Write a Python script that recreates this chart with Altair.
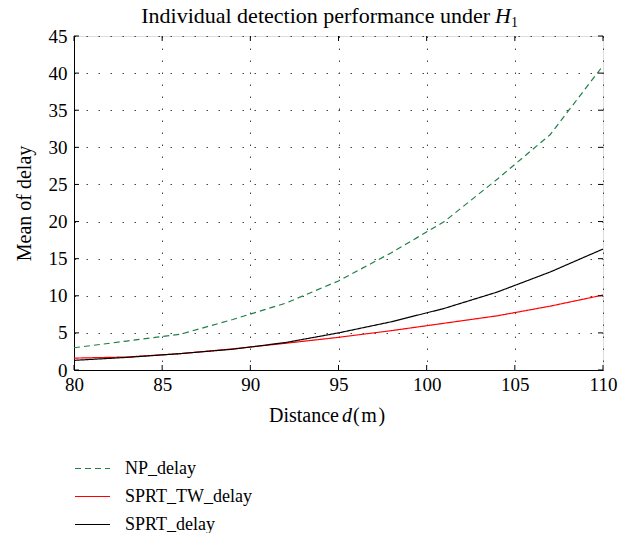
import altair as alt
import pandas as pd

distance = [80, 83, 86, 89, 92, 95, 98, 101, 104, 107, 110]
np_delay = [3.0, 3.9, 4.8, 6.8, 9.0, 12.0, 15.8, 20.0, 25.7, 31.7, 41.0]
sprt_tw_delay = [1.6, 1.75, 2.2, 2.85, 3.6, 4.4, 5.3, 6.3, 7.3, 8.6, 10.1]
sprt_delay = [1.3, 1.7, 2.2, 2.8, 3.7, 5.0, 6.5, 8.3, 10.5, 13.2, 16.3]

series_names = ["NP_delay", "SPRT_TW_delay", "SPRT_delay"]
series_colors = ["#1e7f45", "#ff0000", "#000000"]
series_dash = [[6, 4], [1, 0], [1, 0]]

x_ticks = [80, 85, 90, 95, 100, 105, 110]
y_ticks = [0, 5, 10, 15, 20, 25, 30, 35, 40, 45]

W, H = 529, 334
FONT = "Liberation Serif"

rows = []
for name, vals in zip(series_names, [np_delay, sprt_tw_delay, sprt_delay]):
    for d, v in zip(distance, vals):
        rows.append({"d": d, "value": v, "series": name})
df = pd.DataFrame(rows)

xscale = alt.Scale(domain=[80, 110], nice=False, zero=False)
yscale = alt.Scale(domain=[0, 45], nice=False)

x_axis = alt.Axis(values=x_ticks, title=None, grid=True, gridDash=[1.5, 10.5],
                  gridColor="#444", gridWidth=1, ticks=False, domainColor="#000",
                  labelFont=FONT, labelFontSize=19, labelColor="#000", labelPadding=5,
                  labelFlush=False, labelOverlap=False)
y_axis = alt.Axis(values=y_ticks, title="Mean of delay", grid=True, gridDash=[1.5, 10.5],
                  gridColor="#444", gridWidth=1, ticks=False, domainColor="#000",
                  labelFont=FONT, labelFontSize=19, labelColor="#000", labelPadding=7,
                  labelFlush=False, labelOverlap=False,
                  titleFont=FONT, titleFontSize=20, titleFontWeight="normal",
                  titleColor="#000", titlePadding=14)

legend_cfg = dict(title=None, orient="none", legendX=0, legendY=414,
                  symbolType="stroke", symbolSize=1225, symbolStrokeWidth=1.2,
                  labelFont=FONT, labelFontSize=18, labelColor="#000",
                  labelOffset=14, rowPadding=-8)

lines = alt.Chart(df).mark_line(strokeWidth=1.2).encode(
    x=alt.X("d:Q", scale=xscale, axis=x_axis),
    y=alt.Y("value:Q", scale=yscale, axis=y_axis),
    color=alt.Color("series:N", scale=alt.Scale(domain=series_names, range=series_colors),
                    legend=alt.Legend(**legend_cfg)),
    strokeDash=alt.StrokeDash("series:N", scale=alt.Scale(domain=series_names, range=series_dash),
                              legend=alt.Legend(**legend_cfg)),
)

xt = pd.DataFrame({"d": x_ticks})
yt = pd.DataFrame({"value": y_ticks})
tick_bottom = alt.Chart(xt).mark_rule(color="#000", strokeWidth=1).encode(
    x=alt.X("d:Q", scale=xscale, axis=x_axis), y=alt.value(H), y2=alt.value(H - 5))
tick_top = alt.Chart(xt).mark_rule(color="#000", strokeWidth=1).encode(
    x=alt.X("d:Q", scale=xscale, axis=x_axis), y=alt.value(0), y2=alt.value(5))
tick_left = alt.Chart(yt).mark_rule(color="#000", strokeWidth=1).encode(
    y=alt.Y("value:Q", scale=yscale, axis=y_axis), x=alt.value(0), x2=alt.value(5))
tick_right = alt.Chart(yt).mark_rule(color="#000", strokeWidth=1).encode(
    y=alt.Y("value:Q", scale=yscale, axis=y_axis), x=alt.value(W), x2=alt.value(W - 5))


def label(text, x, y, size, align="left", italic=False):
    kw = dict(font=FONT, fontSize=size, align=align, baseline="alphabetic", color="#000")
    if italic:
        kw["fontStyle"] = "italic"
    return alt.Chart(pd.DataFrame({"t": [text]})).mark_text(**kw).encode(
        text="t:N", x=alt.value(x), y=alt.value(y))


title_main = label("Individual detection performance under", 416, -13, 22, align="right")
title_h = label("H", 421, -13, 22, italic=True)
title_sub = label("1", 437, -9, 14)

xl_a = label("Distance", 265, 386, 20, align="right")
xl_d = label("d", 268, 386, 20, italic=True)
xl_m = label("(\u200am\u200a)", 279, 386, 20)

chart = alt.layer(
    lines, tick_bottom, tick_top, tick_left, tick_right,
    title_main, title_h, title_sub, xl_a, xl_d, xl_m
).properties(
    width=W, height=H,
    autosize=alt.AutoSizeParams(type="none"),
    padding={"left": 74, "top": 36, "right": 34, "bottom": 163},
).configure_view(stroke="#000", strokeWidth=1).configure(background="#ffffff")

chart.save("out.html", embed_options={"renderer": "svg", "actions": False})
